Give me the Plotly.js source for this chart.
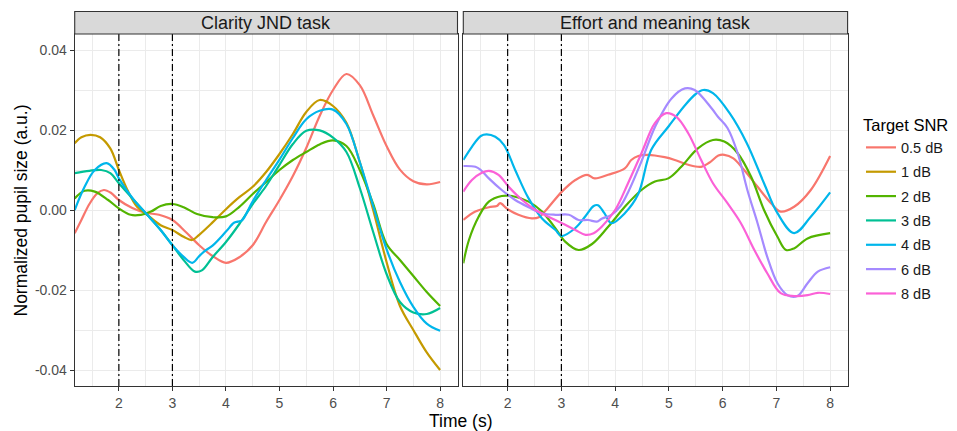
<!DOCTYPE html>
<html>
<head>
<meta charset="utf-8">
<script src="https://cdn.plot.ly/plotly-3.0.1.min.js"></script>
<style>
  html, body { margin: 0; padding: 0; background: #ffffff; }
  #chart { width: 957px; height: 431px; }
</style>
</head>
<body>
<div id="chart"></div>
<script>
// ---------------- DATA ----------------
const panelTitles = ["Clarity JND task", "Effort and meaning task"];
const snrLabels = ["0.5 dB", "1 dB", "2 dB", "3 dB", "4 dB", "6 dB", "8 dB"];
const snrColors = ["#F8766D", "#C49A00", "#53B400", "#00C094", "#00B6EB", "#A58AFF", "#FB61D7"];
const cueTimes = [2, 3];
const yTickVals = [-0.04, -0.02, 0, 0.02, 0.04];
const yTickText = ["-0.04", "-0.02", "0.00", "0.02", "0.04"];

// Clarity JND task
const clarity_05_t = [1.175, 1.3, 1.45, 1.6, 1.72, 1.85, 2, 2.25, 2.5, 2.75, 3, 3.25, 3.5, 3.75, 4, 4.25, 4.5, 4.75, 5, 5.25, 5.5, 5.75, 6, 6.25, 6.5, 6.75, 7, 7.25, 7.5, 7.75, 8];
const clarity_05_y = [-0.0058, -0.0025, 0.0015, 0.0042, 0.005, 0.0043, 0.0025, 0.0005, -0.0007, -0.0012, -0.0025, -0.0055, -0.0088, -0.0115, -0.0132, -0.0118, -0.0088, -0.003, 0.0025, 0.0085, 0.0155, 0.0235, 0.030, 0.034, 0.0312, 0.0237, 0.016, 0.0101, 0.0072, 0.0064, 0.007];

const clarity_1_t = [1.175, 1.3, 1.47, 1.65, 1.84, 2, 2.16, 2.34, 2.53, 2.78, 3, 3.21, 3.37, 3.5, 3.75, 4, 4.25, 4.5, 4.75, 5, 5.25, 5.5, 5.75, 6, 6.25, 6.5, 6.75, 7, 7.25, 7.5, 7.75, 8];
const clarity_1_y = [0.0167, 0.0182, 0.0188, 0.0182, 0.0154, 0.010, 0.005, 0.0008, -0.0012, -0.0038, -0.005, -0.0067, -0.0075, -0.0062, -0.0031, 0.0002, 0.0032, 0.0058, 0.0095, 0.014, 0.019, 0.0245, 0.0275, 0.026, 0.0218, 0.012, 0.0, -0.013, -0.024, -0.030, -0.0356, -0.040];

const clarity_2_t = [1.175, 1.36, 1.55, 1.8, 2, 2.22, 2.41, 2.6, 2.78, 3, 3.21, 3.46, 3.75, 4, 4.25, 4.5, 4.75, 5, 5.25, 5.5, 5.75, 6, 6.25, 6.5, 6.75, 7, 7.25, 7.5, 7.75, 8];
const clarity_2_y = [0.0029, 0.0048, 0.0046, 0.0025, 0.0004, -0.0012, -0.0012, -0.0004, 0.001, 0.0015, 0.0007, -0.001, -0.0018, -0.0016, 0.0008, 0.004, 0.007, 0.010, 0.0125, 0.0145, 0.0164, 0.0174, 0.016, 0.010, 0.0015, -0.0085, -0.0125, -0.0165, -0.0205, -0.024];

const clarity_3_t = [1.175, 1.45, 1.67, 1.84, 2, 2.28, 2.53, 2.78, 3, 3.21, 3.42, 3.55, 3.75, 4, 4.25, 4.5, 4.75, 5, 5.25, 5.5, 5.75, 6, 6.25, 6.5, 6.75, 7, 7.25, 7.5, 7.75, 8];
const clarity_3_y = [0.0092, 0.0098, 0.010, 0.0092, 0.0067, 0.0025, -0.0012, -0.005, -0.0088, -0.0125, -0.0154, -0.0151, -0.0118, -0.008, -0.0035, 0.0015, 0.006, 0.0113, 0.0165, 0.0198, 0.0199, 0.0181, 0.0145, 0.0055, -0.0055, -0.016, -0.023, -0.0256, -0.026, -0.0245];

const clarity_4_t = [1.175, 1.36, 1.55, 1.77, 1.92, 2, 2.28, 2.53, 2.78, 3, 3.21, 3.37, 3.49, 3.59, 3.75, 4, 4.15, 4.22, 4.3, 4.5, 4.75, 5, 5.25, 5.5, 5.75, 6, 6.25, 6.5, 6.75, 7, 7.25, 7.5, 7.75, 8];
const clarity_4_y = [0.0, 0.0058, 0.010, 0.0117, 0.010, 0.0079, 0.0025, -0.0012, -0.005, -0.0088, -0.0117, -0.0132, -0.0117, -0.0104, -0.0089, -0.0054, -0.0032, -0.0029, -0.0026, 0.0022, 0.0075, 0.0126, 0.018, 0.0227, 0.0248, 0.0251, 0.0215, 0.012, 0.001, -0.0098, -0.018, -0.0242, -0.0284, -0.0302];

// Effort and meaning task
const effort_05_t = [1.175, 1.4, 1.65, 1.8, 1.86, 2, 2.2, 2.45, 2.58, 2.76, 3.01, 3.26, 3.48, 3.62, 3.87, 4.18, 4.3, 4.43, 4.61, 4.92, 5.11, 5.36, 5.6, 5.75, 5.92, 6.03, 6.2, 6.4, 6.65, 6.9, 7.08, 7.33, 7.64, 8];
const effort_05_y = [-0.0025, -0.0004, 0.0007, 0.001, 0.0017, 0.0002, -0.0012, -0.0021, -0.0018, 0.0007, 0.0046, 0.0075, 0.0088, 0.0079, 0.0088, 0.0104, 0.0125, 0.0135, 0.0138, 0.0132, 0.0125, 0.0113, 0.0108, 0.0118, 0.0136, 0.0138, 0.0129, 0.010, 0.0058, 0.0017, -0.0004, 0.0008, 0.005, 0.0135];

const effort_2_t = [1.175, 1.28, 1.46, 1.65, 1.89, 2.08, 2.39, 2.64, 2.89, 3.07, 3.32, 3.57, 3.87, 4.18, 4.49, 4.74, 4.99, 5.23, 5.54, 5.82, 6.03, 6.28, 6.53, 6.77, 7.02, 7.18, 7.33, 7.58, 8];
const effort_2_y = [-0.0133, -0.0075, -0.0017, 0.0021, 0.0035, 0.0035, 0.0021, -0.0004, -0.0046, -0.0079, -0.010, -0.0085, -0.0042, 0.0008, 0.005, 0.0071, 0.0079, 0.0108, 0.0154, 0.0175, 0.0171, 0.0142, 0.0083, 0.0, -0.0067, -0.010, -0.0096, -0.0071, -0.0058];

const effort_4_t = [1.175, 1.335, 1.5, 1.61, 1.77, 1.93, 2.14, 2.39, 2.64, 2.89, 3.0, 3.26, 3.45, 3.6, 3.68, 3.8, 3.93, 4.18, 4.43, 4.67, 5, 5.3, 5.5, 5.64, 5.82, 6.13, 6.45, 6.77, 7.02, 7.33, 7.64, 8];
const effort_4_y = [0.0125, 0.0158, 0.0185, 0.0189, 0.0183, 0.0163, 0.010, 0.0029, -0.0021, -0.005, -0.0065, -0.0045, -0.0015, 0.001, 0.0012, -0.0008, -0.0033, -0.0008, 0.004, 0.015, 0.021, 0.0262, 0.029, 0.030, 0.0292, 0.0242, 0.0167, 0.0067, -0.0008, -0.0058, -0.0017, 0.0044];

const effort_6_t = [1.175, 1.4, 1.5, 1.65, 1.89, 2.14, 2.39, 2.64, 2.89, 3.14, 3.32, 3.5, 3.66, 3.75, 3.93, 4.1, 4.25, 4.5, 4.75, 5.05, 5.3, 5.48, 5.79, 5.92, 6.09, 6.28, 6.46, 6.65, 6.83, 7.02, 7.21, 7.39, 7.58, 7.77, 8];
const effort_6_y = [0.011, 0.0108, 0.010, 0.0079, 0.005, 0.0025, 0.0007, -0.0008, -0.0012, -0.0012, -0.0025, -0.0025, -0.0029, -0.0022, -0.0012, 0.001, 0.0047, 0.0125, 0.021, 0.0279, 0.0304, 0.030, 0.0255, 0.0232, 0.0205, 0.0142, 0.005, -0.0033, -0.0117, -0.0183, -0.0213, -0.0215, -0.0183, -0.0154, -0.0143];

const effort_8_t = [1.175, 1.335, 1.52, 1.65, 1.83, 2.02, 2.27, 2.52, 2.76, 3.01, 3.26, 3.45, 3.6, 3.75, 4.0, 4.24, 4.49, 4.74, 4.95, 5.14, 5.36, 5.6, 5.82, 6.09, 6.34, 6.59, 6.83, 7.08, 7.33, 7.58, 7.77, 8];
const effort_8_y = [0.0046, 0.0075, 0.0093, 0.0098, 0.0088, 0.0058, 0.0025, 0.0, -0.0017, -0.0033, -0.005, -0.0062, -0.0058, -0.0042, 0.0, 0.0067, 0.0142, 0.0217, 0.0242, 0.0233, 0.0192, 0.0125, 0.0067, 0.0017, -0.0033, -0.010, -0.0158, -0.0208, -0.0215, -0.0213, -0.0207, -0.021];

// series registry: [snr index, panel index, t, y]
const series = [
  [0, 0, clarity_05_t, clarity_05_y],
  [0, 1, effort_05_t, effort_05_y],
  [1, 0, clarity_1_t, clarity_1_y],
  [2, 0, clarity_2_t, clarity_2_y],
  [2, 1, effort_2_t, effort_2_y],
  [3, 0, clarity_3_t, clarity_3_y],
  [4, 0, clarity_4_t, clarity_4_y],
  [4, 1, effort_4_t, effort_4_y],
  [5, 1, effort_6_t, effort_6_y],
  [6, 1, effort_8_t, effort_8_y]
];

// ---------------- LAYOUT GEOMETRY ----------------
const W = 957, H = 431;
const FONT = "Liberation Sans, Arial, Helvetica, sans-serif";
const plotTop = 34, plotBottom = 386, stripTop = 11.5;
const panelX = [[74.7, 457.5], [463.3, 847.6]];
const yDom = [1 - plotBottom / H, 1 - plotTop / H];
const xRange = [1.175, 8.325];
const yRange = [-0.044, 0.044];

const shown = {};
const traces = series.map(([si, pi, t, y]) => {
  const first = !shown[si];
  shown[si] = true;
  return {
    type: "scatter",
    mode: "lines",
    x: t,
    y: y,
    xaxis: pi === 0 ? "x" : "x2",
    yaxis: pi === 0 ? "y" : "y2",
    name: snrLabels[si],
    legendgroup: snrLabels[si],
    showlegend: first,
    line: { color: snrColors[si], width: 2.2, shape: "spline", smoothing: 1 },
    hoverinfo: "skip"
  };
});

function xAxis(pi) {
  return {
    domain: [panelX[pi][0] / W, panelX[pi][1] / W],
    range: xRange,
    anchor: pi === 0 ? "y" : "y2",
    tick0: 0, dtick: 1,
    ticks: "outside", ticklen: 4, tickwidth: 1.1, tickcolor: "#333333",
    tickfont: { family: FONT, size: 14, color: "#4D4D4D" },
    showgrid: true, gridcolor: "#EBEBEB", gridwidth: 1.1,
    minor: { tick0: 0, dtick: 0.5, showgrid: true, gridcolor: "#EBEBEB", gridwidth: 0.6, ticks: "" },
    showline: true, mirror: true, linecolor: "#333333", linewidth: 1.1,
    zeroline: false, fixedrange: true
  };
}
function yAxis(pi) {
  const a = {
    domain: yDom,
    range: yRange,
    anchor: pi === 0 ? "x" : "x2",
    tickmode: "array", tickvals: yTickVals, ticktext: yTickText,
    ticks: pi === 0 ? "outside" : "", ticklen: 4, tickwidth: 1.1, tickcolor: "#333333",
    showticklabels: pi === 0,
    tickfont: { family: FONT, size: 14, color: "#4D4D4D" },
    showgrid: true, gridcolor: "#EBEBEB", gridwidth: 1.1,
    minor: { tick0: 0, dtick: 0.01, showgrid: true, gridcolor: "#EBEBEB", gridwidth: 0.6, ticks: "" },
    showline: true, mirror: true, linecolor: "#333333", linewidth: 1.1,
    zeroline: false, fixedrange: true
  };
  if (pi === 1) a.matches = "y";
  return a;
}

const shapes = [];
const annotations = [];
[0, 1].forEach(pi => {
  const xr = pi === 0 ? "x" : "x2";
  const yr = pi === 0 ? "y" : "y2";
  cueTimes.forEach(ct => {
    shapes.push({
      type: "line", xref: xr, yref: yr + " domain",
      x0: ct, x1: ct, y0: 0, y1: 1,
      line: { color: "#000000", width: 1.2, dash: "7px,3px,2px,3px" },
      layer: "above"
    });
  });
  shapes.push({
    type: "rect", xref: xr + " domain", yref: "paper",
    x0: 0, x1: 1, y0: 1 - plotTop / H, y1: 1 - stripTop / H,
    fillcolor: "#D9D9D9", line: { color: "#333333", width: 1.1 }, layer: "above"
  });
  annotations.push({
    xref: xr + " domain", yref: "paper", x: 0.5, y: 1 - ((plotTop + stripTop) / 2) / H,
    xanchor: "center", yanchor: "middle", showarrow: false,
    text: panelTitles[pi], font: { family: FONT, size: 18, color: "#1A1A1A" }
  });
});
annotations.push({
  xref: "paper", yref: "paper", x: ((panelX[0][0] + panelX[1][1]) / 2) / W, y: 1 - 421 / H,
  xanchor: "center", yanchor: "middle", showarrow: false,
  text: "Time (s)", font: { family: FONT, size: 17.5, color: "#000000" }
});
annotations.push({
  xref: "paper", yref: "paper", x: 20.5 / W, y: 1 - 211 / H,
  xanchor: "center", yanchor: "middle", showarrow: false, textangle: -90,
  text: "Normalized pupil size (a.u.)", font: { family: FONT, size: 17.5, color: "#000000" }
});

const layout = {
  width: W, height: H,
  margin: { l: 0, r: 0, t: 0, b: 0, pad: 0 },
  paper_bgcolor: "#FFFFFF", plot_bgcolor: "#FFFFFF",
  font: { family: FONT, size: 14.5, color: "#1A1A1A" },
  xaxis: xAxis(0), xaxis2: xAxis(1),
  yaxis: yAxis(0), yaxis2: yAxis(1),
  shapes: shapes,
  annotations: annotations,
  showlegend: true,
  legend: {
    x: 861 / W, xanchor: "left",
    y: 1 - 110 / H, yanchor: "top",
    bgcolor: "rgba(0,0,0,0)",
    title: { text: "Target SNR", font: { family: FONT, size: 16.5, color: "#000000" } },
    font: { family: FONT, size: 14.5, color: "#1A1A1A" },
    tracegroupgap: 2.5,
    itemwidth: 30
  },
  hovermode: false
};

Plotly.newPlot("chart", traces, layout, { displayModeBar: false, responsive: false });
</script>
</body>
</html>
